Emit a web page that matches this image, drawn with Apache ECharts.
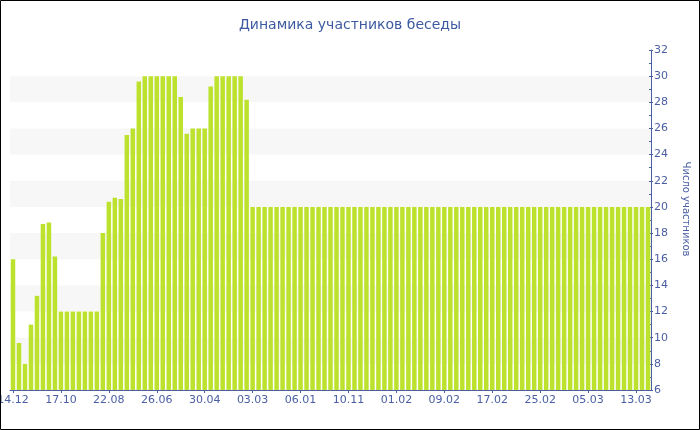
<!DOCTYPE html>
<html>
<head>
<meta charset="utf-8">
<script src="https://cdn.jsdelivr.net/npm/echarts@6/dist/echarts.min.js"></script>
<style>html,body{margin:0;padding:0;background:#fff}#c{width:700px;height:430px}</style>
</head>
<body>
<div id="c"></div>
<script>
// Category labels (only every 8th label is shown in the picture; unknown ones left blank)
const categories = [
  '14.12','','','','','','','',
  '17.10','','','','','','','',
  '22.08','','','','','','','',
  '26.06','','','','','','','',
  '30.04','','','','','','','',
  '03.03','','','','','','','',
  '06.01','','','','','','','',
  '10.11','','','','','','','',
  '01.02','02.02','03.02','04.02','05.02','06.02','07.02','08.02',
  '09.02','10.02','11.02','12.02','13.02','14.02','15.02','16.02',
  '17.02','18.02','19.02','20.02','21.02','22.02','23.02','24.02',
  '25.02','26.02','27.02','28.02','01.03','02.03','03.03','04.03',
  '05.03','06.03','07.03','08.03','09.03','10.03','11.03','12.03',
  '13.03','14.03','15.03'
];
// Number of participants per bar
const participants = [
  16, 9.6, 8, 11, 13.2, 18.7, 18.8, 16.2,
  12, 12, 12, 12, 12, 12, 12, 18,
  20.4, 20.7, 20.6, 25.5, 26, 29.6, 30, 30,
  30, 30, 30, 30, 28.4, 25.6, 26, 26,
  26, 29.2, 30, 30, 30, 30, 30, 28.2,
  20, 20, 20, 20, 20, 20, 20, 20,
  20, 20, 20, 20, 20, 20, 20, 20,
  20, 20, 20, 20, 20, 20, 20, 20,
  20, 20, 20, 20, 20, 20, 20, 20,
  20, 20, 20, 20, 20, 20, 20, 20,
  20, 20, 20, 20, 20, 20, 20, 20,
  20, 20, 20, 20, 20, 20, 20, 20,
  20, 20, 20, 20, 20, 20, 20, 20,
  20, 20, 20
];
const titleText = 'Динамика участников беседы';
const yName = 'Число участников';

const axisColor = '#4a5ea3';
const font = 'DejaVu Sans';
const chart = echarts.init(document.getElementById('c'), null, {renderer: 'canvas'});
chart.setOption({
  animation: false,
  backgroundColor: '#fff',
  title: {
    text: titleText, left: 'center', top: 13,
    textStyle: {color: '#3d5aa0', fontSize: 14, fontWeight: 'normal', fontFamily: font}
  },
  graphic: [{
    type: 'rect', z: 100,
    shape: {x: 0.5, y: 0.5, width: 699, height: 429},
    style: {fill: 'none', stroke: '#000', lineWidth: 1}
  }],
  grid: {left: 10, right: 49, top: 50, bottom: 40, containLabel: false, outerBoundsMode: 'none'},
  xAxis: {
    type: 'category', data: categories, boundaryGap: true,
    axisLine: {lineStyle: {color: axisColor, width: 1}},
    axisTick: {show: true, interval: 7, alignWithLabel: true, length: 3, lineStyle: {color: axisColor}},
    axisLabel: {interval: 7, color: axisColor, fontSize: 11, fontFamily: font, margin: 5, hideOverlap: false},
    splitLine: {show: false}
  },
  yAxis: [{
    type: 'value', position: 'right', min: 6, max: 32, interval: 2,
    name: yName, nameLocation: 'middle', nameRotate: -90, nameGap: 30,
    nameTextStyle: {color: axisColor, fontSize: 10, fontFamily: font, padding: [0, 22, 0, 0]},
    axisLine: {show: true, lineStyle: {color: axisColor, width: 1}},
    axisTick: {show: true, inside: false, length: 2, lineStyle: {color: axisColor}},
    axisLabel: {color: axisColor, fontSize: 11, fontFamily: font, margin: 3},
    splitLine: {show: false},
    splitArea: {show: true, areaStyle: {color: ['rgba(255,255,255,0)', '#f7f7f7']}}
  }, {
    type: 'value', position: 'right', min: 6, max: 32, interval: 2,
    axisLine: {show: false},
    axisTick: {show: true, inside: true, length: 2, lineStyle: {color: axisColor}},
    minorTick: {show: true, splitNumber: 2, length: 2, lineStyle: {color: axisColor}},
    axisLabel: {show: false},
    splitLine: {show: false}
  }],
  series: [{
    type: 'bar', data: participants, yAxisIndex: 0,
    barCategoryGap: '25%',
    itemStyle: {color: '#bce22e'}
  }]
});
</script>
</body>
</html>
